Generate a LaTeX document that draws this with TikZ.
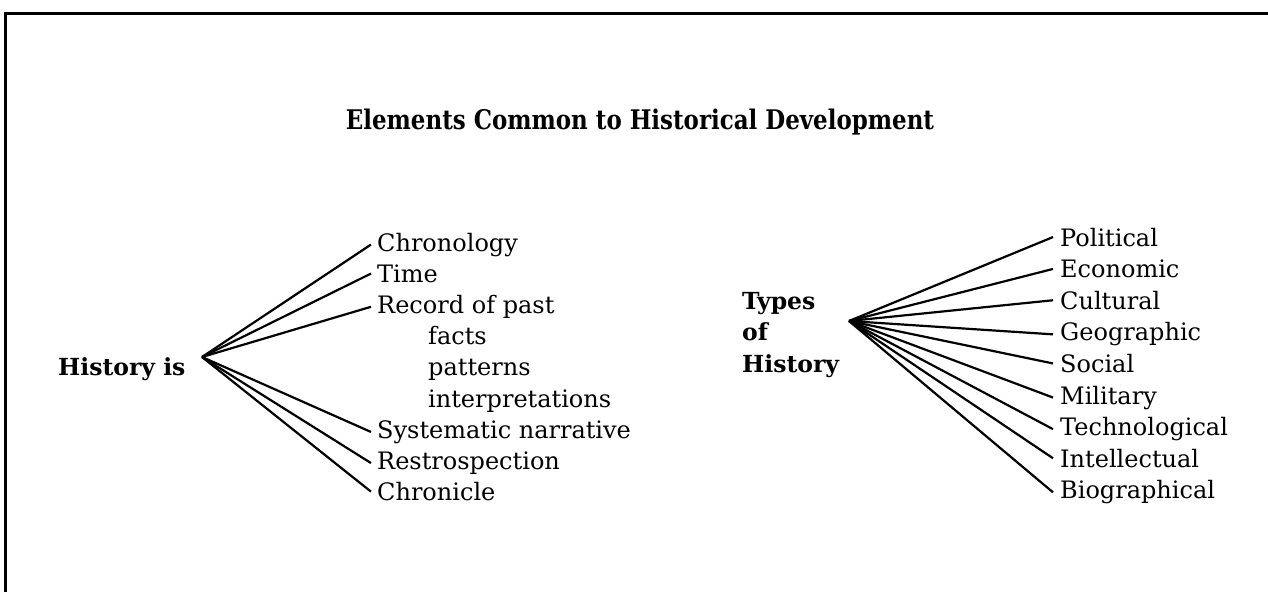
\documentclass[tikz,border=0pt]{standalone}
\usepackage{fontspec}
\setmainfont{DejaVu Serif}
\usetikzlibrary{positioning}
\tikzset{
	item/.style={anchor=base west, inner xsep=6pt, inner ysep=0pt, font=\fontsize{24}{31.5}\selectfont},
	head/.style={inner sep=0pt, font=\fontsize{23.5}{31.5}\selectfont\bfseries, align=left},
	branch/.style={line width=2.2pt},
}
\begin{document}
\begin{tikzpicture}[x=1pt,y=-1pt]
			\useasboundingbox (0,0) rectangle (1268,592);
			\draw[line width=3pt] (1268,13) -- (5,13) -- (5,592);
			\node (title) [head, anchor=base, font=\fontsize{27}{31.5}\selectfont\bfseries] at (640,129) {\scalebox{0.85}[1]{Elements Common to Historical Development}};
			% left fan
			\node (hist) [head, anchor=base west] at (58,375) {History is};
			\coordinate (hl) at (202,357);
			\node (chron) [item] at (371,251) {Chronology};
			\node (time) [item] at ([yshift=-31.2pt]chron.base west) {Time};
			\node (rec) [item] at ([yshift=-31.2pt]time.base west) {Record of past};
			\node (facts) [item] at ([xshift=51pt,yshift=-31.2pt]rec.base west) {facts};
			\node (patt) [item] at ([yshift=-31.2pt]facts.base west) {patterns};
			\node (interp) [item] at ([yshift=-31.2pt]patt.base west) {interpretations};
			\node (syst) [item] at ([xshift=-51pt,yshift=-31.2pt]interp.base west) {Systematic narrative};
			\node (retro) [item] at ([yshift=-31.2pt]syst.base west) {Restrospection};
			\node (chronic) [item] at ([yshift=-31.2pt]retro.base west) {Chronicle};
			\draw[branch] (hl) -- (chron.west);
			\draw[branch] (hl) -- (time.west);
			\draw[branch] (hl) -- (rec.west);
			\draw[branch] (hl) -- (syst.west);
			\draw[branch] (hl) -- (retro.west);
			\draw[branch] (hl) -- (chronic.west);
			% right fan
			\node (types) [head, anchor=west] at (742,335) {Types\\of\\History};
			\coordinate (hr) at (849,321);
			\node (pol) [item, inner xsep=7pt] at (1053,246) {Political};
			\node (eco) [item, inner xsep=7pt] at ([yshift=-31.6pt]pol.base west) {Economic};
			\node (cul) [item, inner xsep=7pt] at ([yshift=-31.6pt]eco.base west) {Cultural};
			\node (geo) [item, inner xsep=7pt] at ([yshift=-31.6pt]cul.base west) {Geographic};
			\node (soc) [item, inner xsep=7pt] at ([yshift=-31.6pt]geo.base west) {Social};
			\node (mil) [item, inner xsep=7pt] at ([yshift=-31.6pt]soc.base west) {Military};
			\node (tech) [item, inner xsep=7pt] at ([yshift=-31.6pt]mil.base west) {Technological};
			\node (intel) [item, inner xsep=7pt] at ([yshift=-31.6pt]tech.base west) {Intellectual};
			\node (bio) [item, inner xsep=7pt] at ([yshift=-31.6pt]intel.base west) {Biographical};
			\draw[branch] (hr) -- (pol.west);
			\draw[branch] (hr) -- (eco.west);
			\draw[branch] (hr) -- (cul.west);
			\draw[branch] (hr) -- (geo.west);
			\draw[branch] (hr) -- (soc.west);
			\draw[branch] (hr) -- (mil.west);
			\draw[branch] (hr) -- (tech.west);
			\draw[branch] (hr) -- (intel.west);
			\draw[branch] (hr) -- (bio.west);
		\end{tikzpicture}
\end{document}
